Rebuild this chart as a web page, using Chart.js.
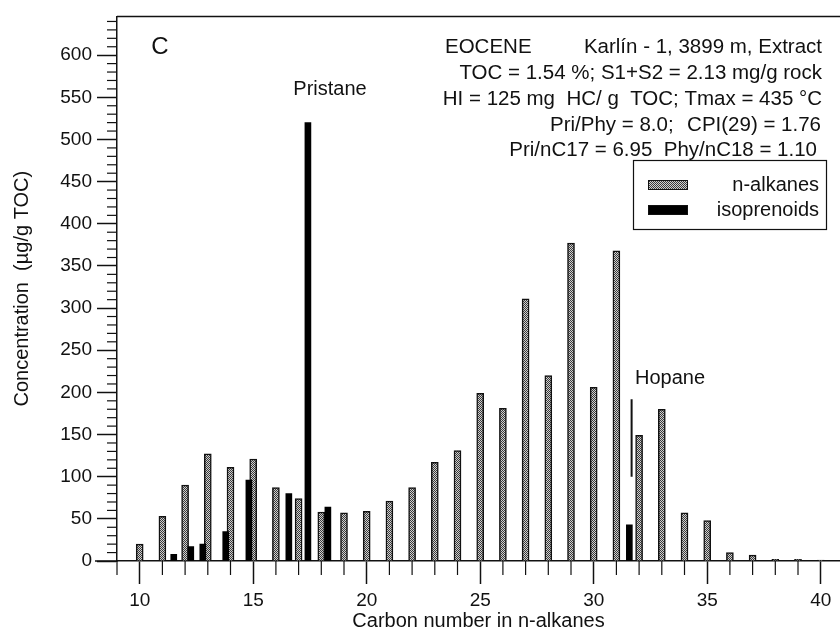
<!DOCTYPE html>
<html><head><meta charset="utf-8">
<script src="https://cdn.jsdelivr.net/npm/chart.js@4.4.1/dist/chart.umd.min.js"></script>
<style>html,body{margin:0;padding:0;background:#fff;}#wrap{width:840px;height:635px;}</style>
</head><body><div id="wrap"><canvas id="c" width="840" height="635"></canvas></div>
<script>
// ---- data ----
const carbonNumbers = [10,11,12,13,14,15,16,17,18,19,20,21,22,23,24,25,26,27,28,29,30,31,32,33,34,35,36,37,38,39,40];
const nAlkanes      = [20,53,90,127,111,121,87,74,58,57,59,71,87,117,131,199,181,311,220,377,206,368,149,180,57,48,10,7,2,2,1];
const isoprenoidPositions = [11.5,12.25,12.78,13.79,14.81,16.57,17.41,18.29];
const isoprenoids         = [8,17,20,35,96,80,520,64];
const hopanePositions = [31.57];
const hopaneValues    = [43];
const hopaneMarkerPosition = 31.67;
const hopaneMarkerRange    = [100,192];
const xTickValues = [10,15,20,25,30,35,40];
const yTickValues = [0,50,100,150,200,250,300,350,400,450,500,550,600];
const infoLines = [
  ["EOCENE","Karlín - 1, 3899 m, Extract"],
  ["","TOC = 1.54 %; S1+S2 = 2.13 mg/g rock"],
  ["","HI = 125 mg  HC/ g  TOC; Tmax = 435 °C"],
  ["Pri/Phy = 8.0;","CPI(29) = 1.76"],
  ["","Pri/nC17 = 6.95  Phy/nC18 = 1.10"]
];

const FONT = '"Liberation Sans", Arial, Helvetica, sans-serif';
Chart.defaults.font.family = FONT;
Chart.defaults.color = '#111';

const canvas = document.getElementById('c');
const ctx = canvas.getContext('2d');
function makePattern(){
  const p = document.createElement('canvas'); p.width = 2; p.height = 2;
  const g = p.getContext('2d');
  g.fillStyle = '#d0d0d0'; g.fillRect(0,0,2,2);
  g.fillStyle = '#3a3a3a'; g.fillRect(0,0,1,1); g.fillRect(1,1,1,1);
  return ctx.createPattern(p,'repeat');
}
const stipple = makePattern();

const toXY = (xs, ys) => xs.map((x,i)=>({x, y: ys[i]}));

const extras = {
  id: 'extras',
  afterDraw(chart){
    const {ctx, chartArea: a, scales: {x, y}} = chart;
    ctx.save();
    ctx.strokeStyle = '#111'; ctx.lineWidth = 1.5;
    // top frame line
    ctx.beginPath(); ctx.moveTo(a.left, a.top); ctx.lineTo(a.right, a.top); ctx.stroke();
    // baseline extension to the left
    const y0 = y.getPixelForValue(0);
    ctx.beginPath(); ctx.moveTo(a.left - 22, y0); ctx.lineTo(a.left, y0); ctx.stroke();
    // minor y ticks
    ctx.lineWidth = 1.2;
    for (let v = 10; v < y.max; v += 10){
      if (v % 50 === 0) continue;
      const py = y.getPixelForValue(v);
      ctx.beginPath(); ctx.moveTo(a.left - 10, py); ctx.lineTo(a.left, py); ctx.stroke();
    }
    // minor x ticks
    for (let v = Math.ceil(x.min); v <= x.max; v++){
      if (v % 5 === 0) continue;
      const px = x.getPixelForValue(v);
      ctx.beginPath(); ctx.moveTo(px, y0); ctx.lineTo(px, y0 + 14); ctx.stroke();
    }
    // texts
    ctx.fillStyle = '#111'; ctx.textBaseline = 'middle';
    ctx.font = '24px ' + FONT; ctx.textAlign = 'center';
    ctx.fillText('C', 160, 47);
    ctx.font = '20px ' + FONT;
    ctx.fillText('Pristane', 330, 89);
    ctx.textAlign = 'left';
    ctx.fillText('Hopane', 635, 378);
    ctx.font = '20.5px ' + FONT;
    const lineY = [47,73,99,125,150];
    const leftX = [445, 0, 0, 550, 0];
    const rightX = [822, 822, 822, 821, 817];
    infoLines.forEach((ln,i)=>{
      if (ln[0]) { ctx.textAlign = 'left'; ctx.fillText(ln[0], leftX[i], lineY[i]); }
      ctx.textAlign = 'right'; ctx.fillText(ln[1], rightX[i], lineY[i]);
    });
    // legend
    ctx.font = '20px ' + FONT;
    ctx.lineWidth = 1.2;
    ctx.strokeRect(633.5, 160.5, 193, 69);
    const ds = chart.data.datasets;
    const items = [[ds[0], 185], [ds[1], 210]];
    items.forEach(([d, cy])=>{
      ctx.fillStyle = d.backgroundColor;
      ctx.fillRect(648, cy - 5, 40, 10);
      ctx.strokeStyle = '#111'; ctx.lineWidth = 1;
      ctx.strokeRect(648.5, cy - 4.5, 39, 9);
      ctx.fillStyle = '#111'; ctx.textAlign = 'right';
      ctx.fillText(d.label, 819, cy);
    });
    ctx.restore();
  }
};

new Chart(canvas, {
  type: 'bar',
  data: {
    datasets: [
      { label: 'n-alkanes', data: toXY(carbonNumbers, nAlkanes), backgroundColor: stipple,
        borderColor: '#111', borderWidth: 1.5, barThickness: 7, stack: 'all', order: 2 },
      { label: 'isoprenoids', data: toXY(isoprenoidPositions, isoprenoids), backgroundColor: '#000',
        borderWidth: 0, barThickness: 6, stack: 'all', order: 1 },
      { label: 'hopane', data: toXY(hopanePositions, hopaneValues), backgroundColor: '#000',
        borderWidth: 0, barThickness: 6, stack: 'all', order: 1 },
      { type: 'line', label: 'hopane marker',
        data: hopaneMarkerRange.map(v => ({x: hopaneMarkerPosition, y: v})),
        borderColor: '#111', borderWidth: 2, pointRadius: 0, fill: false, order: 0 }
    ]
  },
  options: {
    responsive: false, animation: false, devicePixelRatio: 1,
    layout: { padding: { top: 14, right: 0, left: 0, bottom: 0 } },
    plugins: { legend: { display: false }, tooltip: { enabled: false } },
    scales: {
      x: {
        type: 'linear', min: 9, max: 40.85, offset: false,
        afterFit: s => { s.height = 74; },
        afterBuildTicks: s => { s.ticks = xTickValues.map(v => ({value: v})); },
        ticks: { font: { size: 19 }, padding: 5, autoSkip: false, maxRotation: 0, color: '#111' },
        grid: { offset: false, drawOnChartArea: false, drawTicks: true, tickLength: 23, tickColor: '#111', tickWidth: 1.5 },
        border: { display: true, color: '#111', width: 1.5 },
        title: { display: true, text: 'Carbon number in n-alkanes', font: { size: 20 }, padding: { bottom: 2, top: 0 }, color: '#111' }
      },
      y: {
        type: 'linear', min: 0, max: 646, stacked: false,
        afterFit: s => { s.width = 117; },
        afterBuildTicks: s => { s.ticks = yTickValues.map(v => ({value: v})); },
        ticks: { font: { size: 19 }, padding: 5, autoSkip: false, color: '#111' },
        grid: { drawOnChartArea: false, drawTicks: true, tickLength: 20, tickColor: '#111', tickWidth: 1.5 },
        border: { display: true, color: '#111', width: 1.5 },
        title: { display: true, text: 'Concentration  (µg/g TOC)', font: { size: 20 }, padding: { top: 10, bottom: 0 }, color: '#111' }
      }
    }
  },
  plugins: [extras]
});
</script></body></html>
